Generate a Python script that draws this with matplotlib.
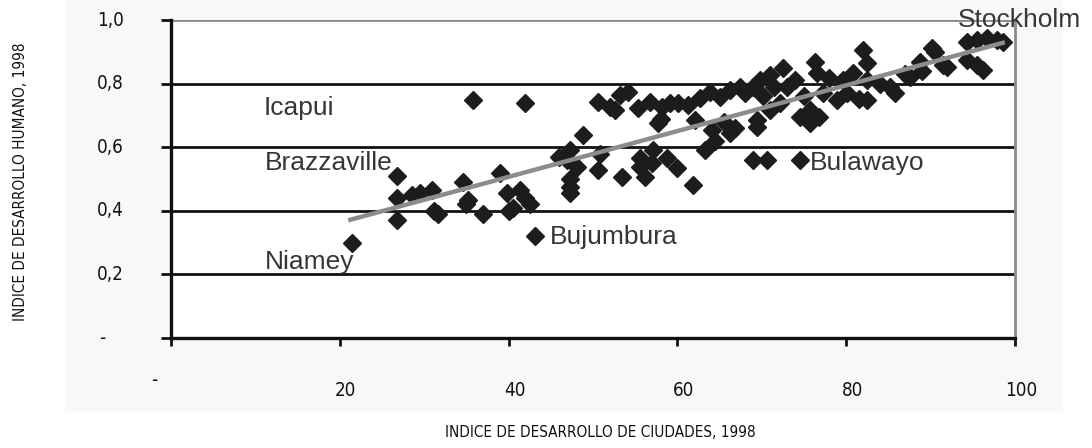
import numpy as np
import matplotlib
matplotlib.use("Agg")
import matplotlib.pyplot as plt
from matplotlib.patches import Rectangle

plt.rcParams['font.family'] = ['DejaVu Sans']
plt.rcParams['font.stretch'] = 'condensed'

# indice de desarrollo de ciudades (x) vs indice de desarrollo humano (y)
idc = [21.4, 26.8, 26.8, 26.8, 28.5, 29.5, 30.9, 31.6, 31.2, 34.6, 35.2, 35.0,
       37.0, 39.0, 39.8, 40.5, 40.0, 41.3, 42.5, 42.0, 43.1, 35.8, 41.9,
       46.0, 46.9, 47.3, 47.3, 47.3, 47.3, 48.1, 48.8, 50.6, 50.6, 50.8, 52.0,
       52.6, 53.2, 53.4, 54.1, 55.3, 55.6, 55.6, 56.2, 56.8, 57.0, 57.1, 57.7,
       58.0, 58.2, 58.8, 59.1, 59.9, 60.1, 61.3, 61.8, 62.1, 62.7, 63.3, 63.9,
       64.1, 64.5, 65.0, 65.5,
       66.2, 66.2, 66.8, 67.4, 68.0, 69.0, 69.0, 69.4, 69.4, 69.8, 70.2, 70.6,
       71.0, 71.0, 71.5, 72.2, 72.5, 73.0, 73.9, 74.5, 74.5, 75.0, 75.7, 75.7,
       76.3, 76.5, 76.8, 77.3, 78.0, 78.9, 79.6, 80.1, 80.8, 81.5, 82.0, 82.5,
       82.5, 82.5,
       84.0, 85.2, 85.8, 87.0, 87.6, 88.7, 89.0, 90.2, 90.5, 91.5, 91.9, 94.3,
       94.3, 95.5, 95.5, 96.2, 96.7, 97.9, 98.6]
idh = [0.30, 0.51, 0.44, 0.37, 0.45, 0.455, 0.465, 0.39, 0.40, 0.49, 0.435, 0.42,
       0.39, 0.52, 0.455, 0.41, 0.40, 0.465, 0.42, 0.44, 0.32, 0.748, 0.738,
       0.57, 0.56, 0.59, 0.50, 0.475, 0.455, 0.538, 0.638, 0.742, 0.528, 0.58, 0.727,
       0.717, 0.764, 0.507, 0.774, 0.723, 0.565, 0.538, 0.507, 0.742, 0.55, 0.59, 0.676,
       0.69, 0.727, 0.565, 0.739, 0.535, 0.739, 0.733, 0.48, 0.686, 0.755, 0.59, 0.774,
       0.654, 0.62, 0.758, 0.68,
       0.78, 0.645, 0.66, 0.789, 0.77, 0.789, 0.56, 0.686, 0.664, 0.811, 0.76, 0.56,
       0.827, 0.717, 0.79, 0.739, 0.849, 0.79, 0.811, 0.695, 0.56, 0.76, 0.717, 0.676,
       0.868, 0.833, 0.695, 0.77, 0.818, 0.748, 0.811, 0.77, 0.833, 0.75, 0.906, 0.865,
       0.811, 0.748,
       0.80, 0.79, 0.77, 0.83, 0.821, 0.868, 0.84, 0.912, 0.90, 0.86, 0.852, 0.931,
       0.874, 0.937, 0.858, 0.843, 0.943, 0.937, 0.931]

# linea de tendencia (extremos)
trend_x = [21.0, 98.8]
trend_y = [0.37, 0.93]

# ciudades senaladas
city_names = ["Icapui", "Brazzaville", "Niamey", "Bujumbura", "Bulawayo", "Stockholm"]
city_x = [11.0, 11.1, 11.1, 44.9, 75.7, 93.2]
city_y = [0.723, 0.55, 0.24, 0.318, 0.55, 1.0]

x_ticks = [0, 20, 40, 60, 80, 100]
x_tick_labels = ["-", "20", "40", "60", "80", "100"]
y_ticks = [0, 0.2, 0.4, 0.6, 0.8, 1.0]
y_tick_labels = ["-", "0,2", "0,4", "0,6", "0,8", "1,0"]

fig = plt.figure(figsize=(10.92, 4.48), dpi=100)
fig.patch.set_facecolor("white")
bg = Rectangle((65/1092, 38/448), 997/1092, 410/448,
               transform=fig.transFigure, color="#f8f8f8", zorder=-10)
fig.add_artist(bg)

ax = fig.add_axes([171/1092, 110/448, 844/1092, 318/448])
ax.set_zorder(1)
ax.set_facecolor("white")
ax.set_xlim(0, 100)
ax.set_ylim(0, 1.0)

# gridlines
for v in y_ticks[1:-1]:
    ax.axhline(v, color="#111111", lw=2.0, zorder=1)
ax.axhline(1.0, color="#8a8a8a", lw=2.0, zorder=1)

ax.plot(idc, idh, linestyle="none", marker="D", ms=9, color="#1c1c1c", zorder=3)
ax.plot(trend_x, trend_y, color="#8c8c8c", lw=3.2, zorder=4, solid_capstyle="butt")

for name, cx, cy in zip(city_names, city_x, city_y):
    ax.text(cx, cy, name, family="Liberation Sans", stretch="normal", fontsize=19,
            color="#363636", ha="left", va="center", zorder=5)

ax.spines["top"].set_visible(False)
ax.spines["right"].set_color("#8a8a8a")
ax.spines["right"].set_linewidth(2)
ax.spines["left"].set_color("#111111")
ax.spines["left"].set_linewidth(2.4)
ax.spines["bottom"].set_color("#111111")
ax.spines["bottom"].set_linewidth(2.4)

ax.set_xticks(x_ticks)
ax.set_yticks(y_ticks)
ax.set_xticklabels([])
ax.set_yticklabels([])
ax.tick_params(axis="y", length=7, width=2, color="#111111")
ax.tick_params(axis="x", length=6, width=2, color="#111111")

# tick labels with the offsets used in the original
for v, lbl in zip(y_ticks, y_tick_labels):
    dx = -66 if lbl == "-" else -47
    ax.annotate(lbl, xy=(0, v), xycoords=("axes fraction", "data"),
                xytext=(dx, 0), textcoords="offset pixels",
                ha="right", va="center", fontsize=13.5, color="#111111",
                annotation_clip=False)
for v, lbl in zip(x_ticks, x_tick_labels):
    off = (-17, -42) if lbl == "-" else (6, -52)
    ax.annotate(lbl, xy=(v, 0), xycoords=("data", "axes fraction"),
                xytext=off, textcoords="offset pixels",
                ha="center", va="center", fontsize=13.5, color="#111111",
                annotation_clip=False)

fig.text(600/1092, 1 - 432/448, "INDICE DE DESARROLLO DE CIUDADES, 1998",
         ha="center", va="center", fontsize=11, color="#111111")
fig.text(21/1092, 1 - 182/448, "INDICE DE DESARROLLO HUMANO, 1998",
         ha="center", va="center", rotation=90, fontsize=11, color="#111111")

fig.savefig("out.png", dpi=100)
